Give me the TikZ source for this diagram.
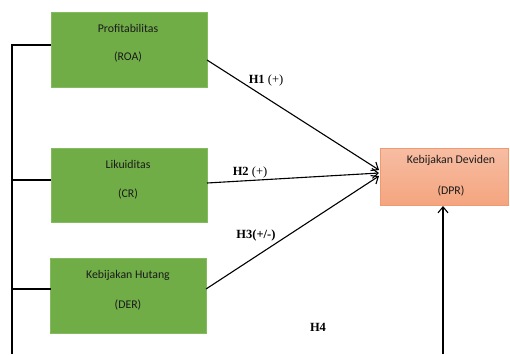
\documentclass[tikz,border=0pt]{standalone}
\usepackage{fontspec}
\setmainfont{Liberation Serif}
\newfontfamily\boxfont{Carlito}
\usetikzlibrary{arrows.meta}
\definecolor{grfill}{HTML}{70AD47}
\definecolor{grdraw}{HTML}{82BC5E}
\definecolor{ortop}{HTML}{F7BDA3}
\definecolor{orbot}{HTML}{F4A57F}
\definecolor{ordraw}{HTML}{EF9B72}
\definecolor{txt}{HTML}{1A1A1A}
\tikzset{
  gbox/.style={draw=grdraw, fill=grfill, line width=0.6pt},
  obox/.style={draw=ordraw, top color=ortop, bottom color=orbot, line width=0.8pt},
  btext/.style={font=\boxfont\fontsize{11.8}{13}\selectfont, text=txt, inner sep=0pt, anchor=center},
  hlabel/.style={font=\fontsize{12.5}{14}\selectfont, inner sep=0pt, anchor=center},
  link/.style={line width=1.1pt, -{Straight Barb[length=6pt,width=10pt,line width=1.1pt]}},
  bracket/.style={line width=1.3pt},
}
\begin{document}
\begin{tikzpicture}[x=1pt,y=-1pt]
\useasboundingbox (0,0) rectangle (510,354);
% boxes
\path[gbox] (51,12) rectangle (207,87);
\path[gbox] (51,148) rectangle (207,222);
\path[gbox] (50,258) rectangle (206,333);
\path[obox] (380,148) rectangle (508,205);
% box texts
\node[btext] (roa1) at (128,28) {Profitabilitas};
\node[btext] (roa2) at (128,57) {(ROA)};
\node[btext] (cr1) at (128,164) {Likuiditas};
\node[btext] (cr2) at (128,194) {(CR)};
\node[btext] (der1) at (128,275) {Kebijakan Hutang};
\node[btext] (der2) at (128,305) {(DER)};
\node[btext] (dpr1) at (451,160) {Kebijakan Deviden};
\node[btext] (dpr2) at (451,191) {(DPR)};
% connector anchors
\coordinate (roaR) at (207,60);
\coordinate (crR) at (207,183);
\coordinate (derR) at (206,289);
\coordinate (t1) at (379,170);
\coordinate (t2) at (379,173);
\coordinate (t3) at (379,176);
\coordinate (dprB) at (443,206);
\coordinate (bot) at (443,354);
\coordinate (roaL) at (51,45);
\coordinate (crL) at (51,180);
\coordinate (derL) at (51,289);
\coordinate (brTop) at (12,45);
\coordinate (brCr) at (12,180);
\coordinate (brDer) at (12,289);
\coordinate (brBot) at (12,354);
% arrows
\draw[link] (roaR) -- (t1);
\draw[link] (crR) -- (t2);
\draw[link] (derR) -- (t3);
\draw[link] (bot) -- (dprB);
% left bracket
\draw[bracket] (roaL) -- (brTop) -- (brBot);
\draw[bracket] (brCr) -- (crL);
\draw[bracket] (brDer) -- (derL);
% labels
\node[hlabel] (h1) at (266,80) {\textbf{H1} (+)};
\node[hlabel] (h2) at (250,172) {\textbf{H2} (+)};
\node[hlabel] (h3) at (256,235) {\textbf{H3(+/-)}};
\node[hlabel] (h4) at (318,327) {\textbf{H4}};
\end{tikzpicture}
\end{document}
